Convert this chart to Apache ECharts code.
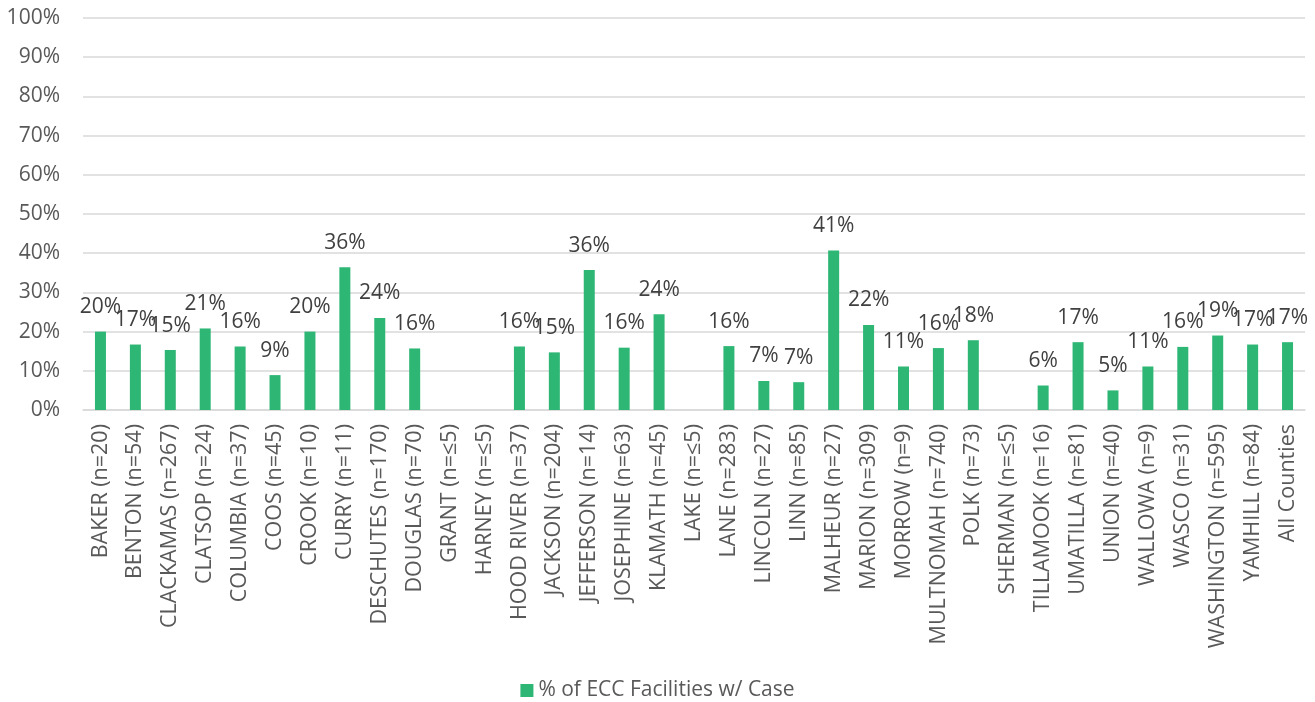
<!DOCTYPE html>
<html>
<head>
<meta charset="utf-8">
<script src="https://cdn.jsdelivr.net/npm/echarts@6/dist/echarts.min.js"></script>
<style>html,body{margin:0;padding:0;background:#fff;}#c{width:1315px;height:702px;}</style>
</head>
<body>
<div id="c"></div>
<script>
const categories = ["BAKER (n=20)","BENTON (n=54)","CLACKAMAS (n=267)","CLATSOP (n=24)","COLUMBIA (n=37)","COOS (n=45)","CROOK (n=10)","CURRY (n=11)","DESCHUTES (n=170)","DOUGLAS (n=70)","GRANT (n=\u22645)","HARNEY (n=\u22645)","HOOD RIVER (n=37)","JACKSON (n=204)","JEFFERSON (n=14)","JOSEPHINE (n=63)","KLAMATH (n=45)","LAKE (n=\u22645)","LANE (n=283)","LINCOLN (n=27)","LINN (n=85)","MALHEUR (n=27)","MARION (n=309)","MORROW (n=9)","MULTNOMAH (n=740)","POLK (n=73)","SHERMAN (n=\u22645)","TILLAMOOK (n=16)","UMATILLA (n=81)","UNION (n=40)","WALLOWA (n=9)","WASCO (n=31)","WASHINGTON (n=595)","YAMHILL (n=84)","All Counties"];
const values = [0.20,0.167,0.153,0.208,0.162,0.089,0.20,0.364,0.235,0.157,null,null,0.162,0.147,0.357,0.159,0.244,null,0.163,0.074,0.071,0.407,0.217,0.111,0.158,0.178,null,0.0625,0.173,0.05,0.111,0.161,0.190,0.167,0.173];
const yTicks = [0,0.1,0.2,0.3,0.4,0.5,0.6,0.7,0.8,0.9,1.0];
const seriesName = "% of ECC Facilities w/ Case";

const FONT = "'Open Sans', sans-serif";
const chart = echarts.init(document.getElementById('c'));
chart.setOption({
  animation: false,
  textStyle: { fontFamily: FONT },
  grid: { left: 83, right: 10, top: 18, bottom: 292, containLabel: false },
  legend: {
    top: 675, left: 'center',
    icon: 'rect', itemWidth: 13, itemHeight: 13, itemGap: 8,
    textStyle: { color: '#595959', fontSize: 21, fontFamily: FONT },
    data: [seriesName]
  },
  xAxis: {
    type: 'category', data: categories,
    axisLine: { lineStyle: { color: '#d9d9d9', width: 1.5 } },
    axisTick: { show: false },
    axisLabel: { interval: 0, rotate: 90, color: '#595959', fontSize: 21.5, margin: 14, fontFamily: FONT }
  },
  yAxis: {
    type: 'value', min: yTicks[0], max: yTicks[yTicks.length-1], interval: 0.1,
    axisLine: { show: false }, axisTick: { show: false },
    splitLine: { lineStyle: { color: '#d9d9d9', width: 1.5 } },
    axisLabel: { color: '#595959', fontSize: 21, margin: 23, fontFamily: FONT,
      formatter: v => Math.round(v*100) + '%' }
  },
  series: [{
    name: seriesName, type: 'bar', data: values, barWidth: 11,
    itemStyle: { color: '#2db674' },
    label: { show: true, position: 'top', distance: 14, color: '#404040', fontSize: 21, fontFamily: FONT,
      formatter: p => p.value == null ? '' : Math.round(p.value*100) + '%' }
  }]
});
</script>
</body>
</html>
